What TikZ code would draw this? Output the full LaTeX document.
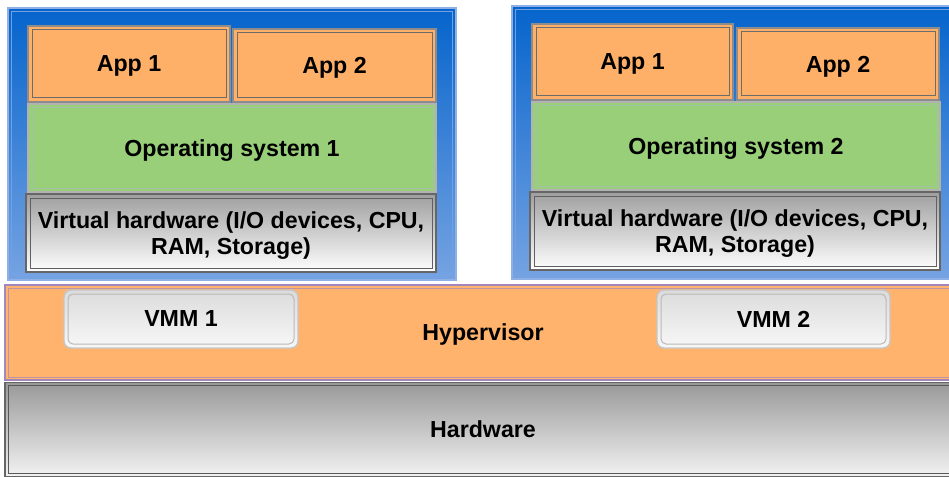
\documentclass[tikz,border=0pt]{standalone}
\usepackage{fontspec}
\setmainfont{Liberation Sans}
\definecolor{apporange}{HTML}{FFB068}
\definecolor{osgreen}{HTML}{98CF78}
\definecolor{vmtop}{HTML}{0564CC}
\definecolor{vmbot}{HTML}{76A3E2}
\definecolor{vmedge}{HTML}{8FB0E6}
\definecolor{hypfill}{HTML}{FFB36C}
\definecolor{hypedge}{HTML}{A386BC}
\newcommand{\innerframe}[3]{\draw[#1] ([shift={(#3,#3)}]#2.north west) rectangle ([shift={(-#3,-#3)}]#2.south east);}
\begin{document}
\begin{tikzpicture}[x=1pt,y=-1pt,
  lbl/.style={font=\fontsize{23.2}{25.5}\selectfont\bfseries, text=black, inner sep=0pt, outer sep=0pt, text depth=0pt},
  vmbox/.style={rectangle, draw=vmedge, line width=1.4pt, top color=vmtop, bottom color=vmbot, inner sep=0pt},
  appbox/.style={lbl, rectangle, draw=gray!90, line width=1.2pt, fill=apporange},
  osbox/.style={lbl, rectangle, draw=gray!60, line width=1.2pt, fill=osgreen},
  vhbox/.style={lbl, rectangle, draw=gray!80!black, line width=1.4pt, top color=black!38, bottom color=white, align=center},
  hypbox/.style={lbl, rectangle, draw=hypedge, line width=1.4pt, fill=hypfill},
  hwbox/.style={lbl, rectangle, draw=gray!80!black, line width=1.4pt, top color=black!40, bottom color=black!5},
  vmmbox/.style={lbl, rectangle, rounded corners=7pt, draw=gray!45, line width=1.4pt, top color=black!14, bottom color=black!3}
]
\clip (0,0) rectangle (949,476);
\fill[white] (0,0) rectangle (949,476);

% virtual machines
\node[vmbox, minimum width=448pt, minimum height=272pt] (vmL) at (232,144) {};
\node[vmbox, minimum width=448pt, minimum height=273pt] (vmR) at (736,142.5) {};
\innerframe{draw=vmedge!80!vmtop, line width=1pt}{vmL}{4}
\innerframe{draw=vmedge!80!vmtop, line width=1pt}{vmR}{4}

% left VM
\node[appbox, minimum width=202pt, minimum height=76pt] (appL1) at (129,64) {App 1};
\node[appbox, minimum width=203pt, minimum height=73pt] (appL2) at (334.5,65.5) {App 2};
\node[osbox, minimum width=408pt, minimum height=88pt] (osL) at (232,148) {Operating system 1};
\node[vhbox, minimum width=410pt, minimum height=78pt] (vhL) at (231,233) {Virtual hardware (I/O devices, CPU,\\RAM, Storage)};
\innerframe{draw=gray!85!black, line width=1pt}{appL1}{4}
\innerframe{draw=gray!85!black, line width=1pt}{appL2}{4}
\innerframe{draw=green!20!gray!60, line width=1pt}{osL}{4}
\innerframe{draw=gray!75!black, line width=1pt}{vhL}{4}

% right VM
\node[appbox, minimum width=201pt, minimum height=76pt] (appR1) at (632.5,62) {App 1};
\node[appbox, minimum width=202pt, minimum height=72pt] (appR2) at (838,64) {App 2};
\node[osbox, minimum width=408pt, minimum height=88pt] (osR) at (736,146) {Operating system 2};
\node[vhbox, minimum width=410pt, minimum height=78pt] (vhR) at (735,231) {Virtual hardware (I/O devices, CPU,\\RAM, Storage)};
\innerframe{draw=gray!85!black, line width=1pt}{appR1}{4}
\innerframe{draw=gray!85!black, line width=1pt}{appR2}{4}
\innerframe{draw=green!20!gray!60, line width=1pt}{osR}{4}
\innerframe{draw=gray!75!black, line width=1pt}{vhR}{4}

% hypervisor and hardware
\node[hypbox, minimum width=956pt, minimum height=95pt] (hyp) at (483,332.5) {Hypervisor};
\innerframe{draw=hypedge!70!hypfill, line width=0.8pt}{hyp}{3}
\node[hwbox, minimum width=956pt, minimum height=94pt] (hw) at (483,429.5) {Hardware};
\innerframe{draw=gray!70!black, line width=0.8pt}{hw}{3}

% VMMs
\node[vmmbox, minimum width=234pt, minimum height=58pt] (vmm1) at (181,319) {VMM 1};
\node[vmmbox, minimum width=233pt, minimum height=58pt] (vmm2) at (773.5,319) {VMM 2};
\draw[draw=gray!55, line width=1pt, rounded corners=5pt] ([shift={(4,4)}]vmm1.north west) rectangle ([shift={(-4,-4)}]vmm1.south east);
\draw[draw=gray!55, line width=1pt, rounded corners=5pt] ([shift={(4,4)}]vmm2.north west) rectangle ([shift={(-4,-4)}]vmm2.south east);
\end{tikzpicture}
\end{document}
